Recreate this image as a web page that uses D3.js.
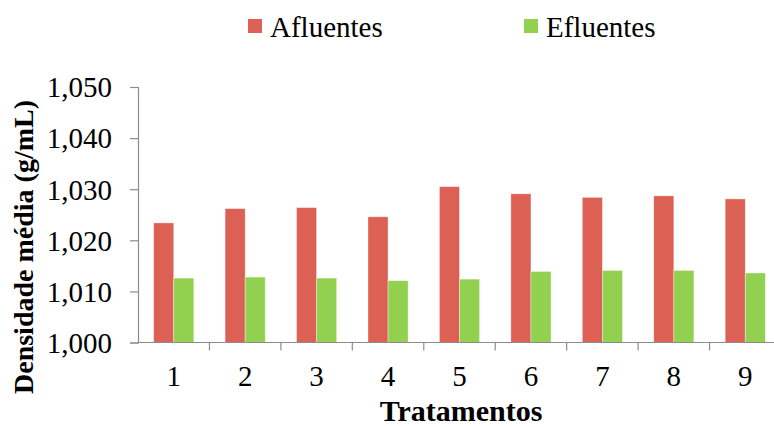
<!DOCTYPE html>
<html>
<head>
<meta charset="utf-8">
<script src="https://cdn.jsdelivr.net/npm/d3@7/dist/d3.min.js"></script>
<style>
  html, body { margin: 0; padding: 0; background: #fff; }
  svg { display: block; }
  text { font-family: "Liberation Serif", "Times New Roman", serif; fill: #000; }
</style>
</head>
<body>
<svg id="chart" width="774" height="427"></svg>
<script>
// Mean density per treatment (g/mL)
const categories = ["1", "2", "3", "4", "5", "6", "7", "8", "9"];
const seriesNames = ["Afluentes", "Efluentes"];
const afluentes = [1.0234, 1.0262, 1.0264, 1.0246, 1.0305, 1.0291, 1.0284, 1.0287, 1.0281];
const efluentes = [1.0126, 1.0128, 1.0126, 1.0121, 1.0124, 1.0139, 1.0141, 1.0141, 1.0136];
const yTicks = [1.000, 1.010, 1.020, 1.030, 1.040, 1.050];
const colors = ["#dc6054", "#92d050"];

const svg = d3.select("#chart");
const plot = { left: 138, right: 781, top: 87, bottom: 342.5 };

const ptBR = d3.formatLocale({ decimal: ",", thousands: ".", grouping: [3], currency: ["R$", ""] });
const fmt = ptBR.format(".3f");

const x = d3.scaleBand().domain(categories).range([plot.left, plot.right]).paddingInner(0).paddingOuter(0);
const inner = d3.scaleBand().domain(seriesNames).range([0, x.bandwidth()]).paddingInner(0).paddingOuter(0.78);
const y = d3.scaleLinear().domain([1.000, 1.050]).range([plot.bottom, plot.top]);

const rows = categories.map((c, i) => ({ cat: c, values: [afluentes[i], efluentes[i]] }));

// Bars
const groups = svg.append("g").selectAll("g").data(rows).join("g")
  .attr("transform", d => `translate(${x(d.cat)},0)`);
groups.selectAll("rect").data(d => d.values.map((v, j) => ({ v, j })))
  .join("rect")
  .attr("x", d => inner(seriesNames[d.j]))
  .attr("width", inner.bandwidth())
  .attr("y", d => y(d.v))
  .attr("height", d => y(1.000) - y(d.v))
  .attr("fill", d => colors[d.j])
  .attr("stroke", "#ffffff")
  .attr("stroke-opacity", 0.45)
  .attr("stroke-width", 0.8);

// Y axis
const yAxis = svg.append("g").attr("transform", `translate(${plot.left},0)`)
  .call(d3.axisLeft(y).tickValues(yTicks).tickFormat(fmt).tickSize(8).tickPadding(18));
yAxis.select(".domain").attr("stroke", "#8c8c8c").attr("stroke-width", 1.2);
yAxis.selectAll(".tick line").attr("stroke", "#8c8c8c").attr("stroke-width", 1.2);
yAxis.selectAll(".tick text").attr("font-size", 29).attr("dy", "0.34em").attr("fill", "#000");

// X axis: ticks at category boundaries, labels centred in each band
const xAxis = svg.append("g").attr("transform", `translate(0,${plot.bottom})`);
xAxis.append("line").attr("x1", plot.left).attr("x2", plot.right).attr("stroke", "#8c8c8c").attr("stroke-width", 1.2);
xAxis.selectAll(".bound").data(categories.slice(1)).join("line")
  .attr("class", "bound")
  .attr("x1", d => x(d)).attr("x2", d => x(d))
  .attr("y1", 0).attr("y2", 8)
  .attr("stroke", "#8c8c8c").attr("stroke-width", 1.2);
xAxis.selectAll(".lab").data(categories).join("text")
  .attr("class", "lab")
  .attr("x", d => x(d) + x.bandwidth() / 2)
  .attr("y", 43)
  .attr("text-anchor", "middle")
  .attr("font-size", 29)
  .text(d => d);

// Axis titles
svg.append("text")
  .attr("x", 461).attr("y", 421)
  .attr("text-anchor", "middle")
  .attr("font-size", 30).attr("font-weight", "bold")
  .text("Tratamentos");
svg.append("text")
  .attr("transform", "translate(33,247) rotate(-90)")
  .attr("text-anchor", "middle")
  .attr("font-size", 28).attr("font-weight", "bold")
  .text("Densidade média (g/mL)");

// Legend
const legendX = [248, 524];
const legend = svg.append("g").selectAll("g").data(seriesNames).join("g")
  .attr("transform", (d, i) => `translate(${legendX[i]},19)`);
legend.append("rect").attr("width", 14).attr("height", 14)
  .attr("fill", (d, i) => colors[i]);
legend.append("text").attr("x", 22).attr("y", 18)
  .attr("font-size", 29).text(d => d);
</script>
</body>
</html>
